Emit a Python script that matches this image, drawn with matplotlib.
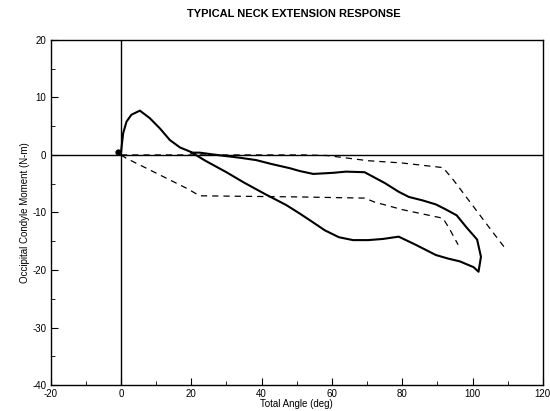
import matplotlib
matplotlib.use("Agg")
import matplotlib.pyplot as plt
import matplotlib.ticker as mticker

plt.rcParams['font.family'] = ['Liberation Sans', 'DejaVu Sans']
plt.rcParams['axes.unicode_minus'] = False

# solid loop: loading path then unloading path
loop_angle = [0.0, 0.3, 0.65, 1.6, 3.0, 5.4, 8.2, 11.1, 13.9, 16.8, 19.6, 21.0, 24.0, 27.0,
              30.0, 35.0, 41.0, 47.0, 50.9, 54.6, 58.0, 62.0, 66.0, 70.3, 74.5,
              79.0, 83.8, 89.6, 93.0, 96.4, 100.3, 101.7, 102.4, 101.3, 98.3, 95.5, 92.5,
              89.6, 85.8, 81.9, 79.0, 75.1, 69.3, 64.0, 60.5, 54.7, 50.9, 48.0, 43.0, 38.5,
              34.0, 30.0, 26.0, 22.4, 20.0]
loop_moment = [0.3, 2.0, 3.8, 5.8, 7.0, 7.7, 6.4, 4.6, 2.6, 1.3, 0.6, 0.1, -1.0, -2.0,
               -3.0, -4.8, -6.8, -8.7, -10.2, -11.7, -13.1, -14.3, -14.8, -14.8, -14.6,
               -14.2, -15.6, -17.4, -18.0, -18.5, -19.5, -20.3, -17.7, -14.7, -12.6, -10.5, -9.5,
               -8.6, -7.9, -7.3, -6.4, -4.9, -3.0, -2.9, -3.1, -3.3, -2.8, -2.3, -1.6, -0.9,
               -0.5, -0.2, 0.1, 0.4, 0.4]

# corridor bounds (dashed)
upper_angle = [0.0, 20.0, 40.0, 52.0, 58.6, 70.3, 80.0, 91.6, 94.5, 100.3, 105.1, 109.0]
upper_moment = [0.0, 0.0, 0.0, 0.0, -0.1, -1.0, -1.4, -2.2, -4.3, -9.0, -12.9, -16.0]

lower_angle = [0.0, 1.6, 8.2, 18.7, 22.4, 50.9, 69.3, 72.2, 80.0, 87.7, 91.6, 93.5, 95.9]
lower_moment = [0.0, -0.6, -2.6, -5.8, -7.1, -7.3, -7.5, -8.2, -9.5, -10.5, -11.0, -12.9, -15.6]

start_angle = [-0.8]
start_moment = [0.5]

fig = plt.figure(figsize=(5.5, 4.11), dpi=100)
ax = fig.add_axes([0.092, 0.063, 0.895, 0.84])

ax.axhline(0, color='black', lw=1.0, zorder=1)
ax.axvline(0, color='black', lw=1.0, zorder=1)

ax.plot(loop_angle, loop_moment, color='black', lw=1.5, zorder=3)
ax.plot(upper_angle, upper_moment, color='black', lw=0.9, ls=(0, (5, 4)), zorder=2)
ax.plot(lower_angle, lower_moment, color='black', lw=0.9, ls=(0, (5, 4)), zorder=2)
ax.plot(start_angle, start_moment, 'o', color='black', ms=3.5, zorder=4)

ax.set_xlim(-20, 120)
ax.set_ylim(-40, 20)
ax.xaxis.set_major_locator(mticker.MultipleLocator(20))
ax.xaxis.set_minor_locator(mticker.MultipleLocator(10))
ax.yaxis.set_major_locator(mticker.MultipleLocator(10))
ax.yaxis.set_minor_locator(mticker.MultipleLocator(5))
ax.tick_params(which='both', direction='in', labelsize=7, pad=3)
ax.tick_params(which='major', length=5)
ax.tick_params(which='minor', length=3)
for s in ax.spines.values():
    s.set_linewidth(1.0)

ax.set_xlabel("Total Angle (deg)", fontsize=7, labelpad=0)
ax.set_ylabel("Occipital Condyle Moment (N-m)", fontsize=7, labelpad=2)
fig.text(0.535, 0.965, "TYPICAL NECK EXTENSION RESPONSE", ha='center', va='center',
         fontsize=8, fontweight='bold')

fig.savefig("out.png", dpi=100)
